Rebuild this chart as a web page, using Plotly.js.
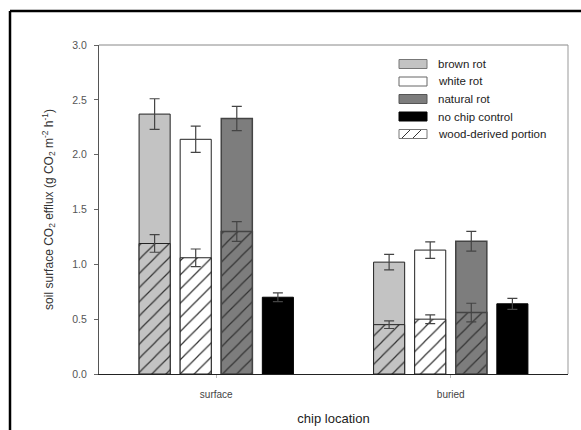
<!DOCTYPE html>
<html>
<head>
<meta charset="utf-8">
<script src="https://cdn.plot.ly/plotly-3.0.1.min.js"></script>
<style>html,body{margin:0;padding:0;background:#fff;}#chart{width:581px;height:430px;}</style>
</head>
<body>
<div id="chart"></div>
<script>
// ---- data ----
const categories = ['surface', 'buried'];
const seriesNames = ['brown rot', 'white rot', 'natural rot', 'no chip control'];
const brownTotal = [2.37, 1.02];
const brownTotalErr = [0.14, 0.07];
const whiteTotal = [2.14, 1.13];
const whiteTotalErr = [0.12, 0.075];
const naturalTotal = [2.33, 1.21];
const naturalTotalErr = [0.11, 0.09];
const controlTotal = [0.70, 0.64];
const controlErr = [0.04, 0.05];
const brownWood = [1.19, 0.45];
const brownWoodErr = [0.08, 0.035];
const whiteWood = [1.06, 0.50];
const whiteWoodErr = [0.08, 0.04];
const naturalWood = [1.30, 0.56];
const naturalWoodErr = [0.09, 0.085];
const woodName = 'wood-derived portion';
const yTicks = [0, 0.5, 1.0, 1.5, 2.0, 2.5, 3.0];
const yTickText = ['0.0', '0.5', '1.0', '1.5', '2.0', '2.5', '3.0'];

// ---- styling ----
const colors = ['#c3c3c3', '#ffffff', '#7d7d7d', '#000000'];
const outlines = ['#222', '#222', '#444', '#000'];
const barW = 0.1325;
const slot = 0.1752;
const offsets = [0, 1, 2, 3].map(i => -2 * slot + i * slot + (slot - barW) / 2);
const errStyle = (arr) => ({type: 'data', array: arr, visible: true, color: '#444', thickness: 1.2, width: 5});

const totals = [brownTotal, whiteTotal, naturalTotal, controlTotal];
const totalErrs = [brownTotalErr, whiteTotalErr, naturalTotalErr, controlErr];
const woods = [brownWood, whiteWood, naturalWood];
const woodErrs = [brownWoodErr, whiteWoodErr, naturalWoodErr];

const traces = [];
totals.forEach((vals, i) => {
  traces.push({
    type: 'bar', x: categories, y: vals, name: seriesNames[i],
    width: barW, offset: offsets[i],
    marker: {color: colors[i], line: {color: outlines[i], width: i === 2 ? 1.5 : 1}},
    error_y: errStyle(totalErrs[i]), showlegend: false, hoverinfo: 'y'
  });
});
woods.forEach((vals, i) => {
  traces.push({
    type: 'bar', x: categories, y: vals, name: woodName,
    width: barW, offset: offsets[i],
    marker: {color: colors[i], line: {color: outlines[i], width: i === 2 ? 1.5 : 1},
      pattern: {shape: '/', fillmode: 'replace', bgcolor: colors[i], fgcolor: '#333', size: 10, solidity: 0.12}},
    error_y: errStyle(woodErrs[i]), showlegend: false, hoverinfo: 'y'
  });
});

// ---- layout geometry (pixels -> paper) ----
const L = 99, R = 568, T = 45, B = 374;
const px = x => (x - L) / (R - L);
const py = y => (B - y) / (B - T);

const shapes = [
  // outer frame
  {type: 'line', xref: 'paper', yref: 'paper', x0: px(10), x1: px(10), y0: py(11), y1: py(440), line: {color: '#000', width: 2.5}},
  {type: 'line', xref: 'paper', yref: 'paper', x0: px(10), x1: px(590), y0: py(11), y1: py(11), line: {color: '#000', width: 2.5}},
  // plot frame top/right
  {type: 'line', xref: 'paper', yref: 'paper', x0: 0, x1: 1, y0: 1, y1: 1, line: {color: '#888', width: 1}},
  {type: 'line', xref: 'paper', yref: 'paper', x0: 1, x1: 1, y0: 0, y1: 1, line: {color: '#999', width: 1}}
];
const annotations = [];
const legendItems = [...seriesNames, woodName];
const legFill = ['#c3c3c3', '#ffffff', '#7d7d7d', '#000000', '#ffffff'];
const legLine = ['#777', '#666', '#555', '#000', '#777'];
legendItems.forEach((name, i) => {
  const yc = 64 + i * 17.5;
  shapes.push({type: 'rect', xref: 'paper', yref: 'paper', x0: px(399), x1: px(427), y0: py(yc - 4.5), y1: py(yc + 4.5),
    fillcolor: legFill[i], line: {color: legLine[i], width: 1}});
  if (i === 4) {
    [[402, 410], [413, 421]].forEach(([a, b]) => {
      shapes.push({type: 'line', xref: 'paper', yref: 'paper', x0: px(a), x1: px(b), y0: py(yc + 4), y1: py(yc - 4), line: {color: '#333', width: 1}});
    });
  }
  annotations.push({xref: 'paper', yref: 'paper', x: px(436), y: py(yc), xanchor: 'left', yanchor: 'middle',
    text: name, showarrow: false, font: {size: 11.5, color: '#222', family: 'Arial, Liberation Sans, sans-serif'}});
});

const layout = {
  width: 581, height: 430,
  margin: {l: L, r: 581 - R, t: T, b: 430 - B},
  paper_bgcolor: '#fff', plot_bgcolor: '#fff',
  barmode: 'overlay',
  showlegend: false,
  font: {family: 'Arial, Liberation Sans, sans-serif', color: '#444'},
  xaxis: {
    type: 'category', range: [-0.5, 1.5], showline: true, linecolor: '#222', linewidth: 1,
    ticks: 'outside', ticklen: 3, tickcolor: '#bbb', showgrid: false, zeroline: false,
    tickfont: {size: 10, color: '#444'}, ticklabelstandoff: 8,
    title: {text: 'chip location', font: {size: 13, color: '#222'}, standoff: 14}
  },
  yaxis: {
    range: [0, 3.0], tickvals: yTicks, ticktext: yTickText, showline: true, linecolor: '#555', linewidth: 1,
    ticks: 'outside', ticklen: 4, tickcolor: '#666', showgrid: false, zeroline: false,
    tickfont: {size: 10.5, color: '#555'}, ticklabelstandoff: 5,
    title: {text: 'soil surface CO<sub>2</sub> efflux (g CO<sub>2</sub> m<sup>-2</sup> h<sup>-1</sup>)', font: {size: 12, color: '#333'}, standoff: 16}
  },
  shapes: shapes,
  annotations: annotations
};

Plotly.newPlot('chart', traces, layout, {displayModeBar: false, staticPlot: true});
</script>
</body>
</html>
